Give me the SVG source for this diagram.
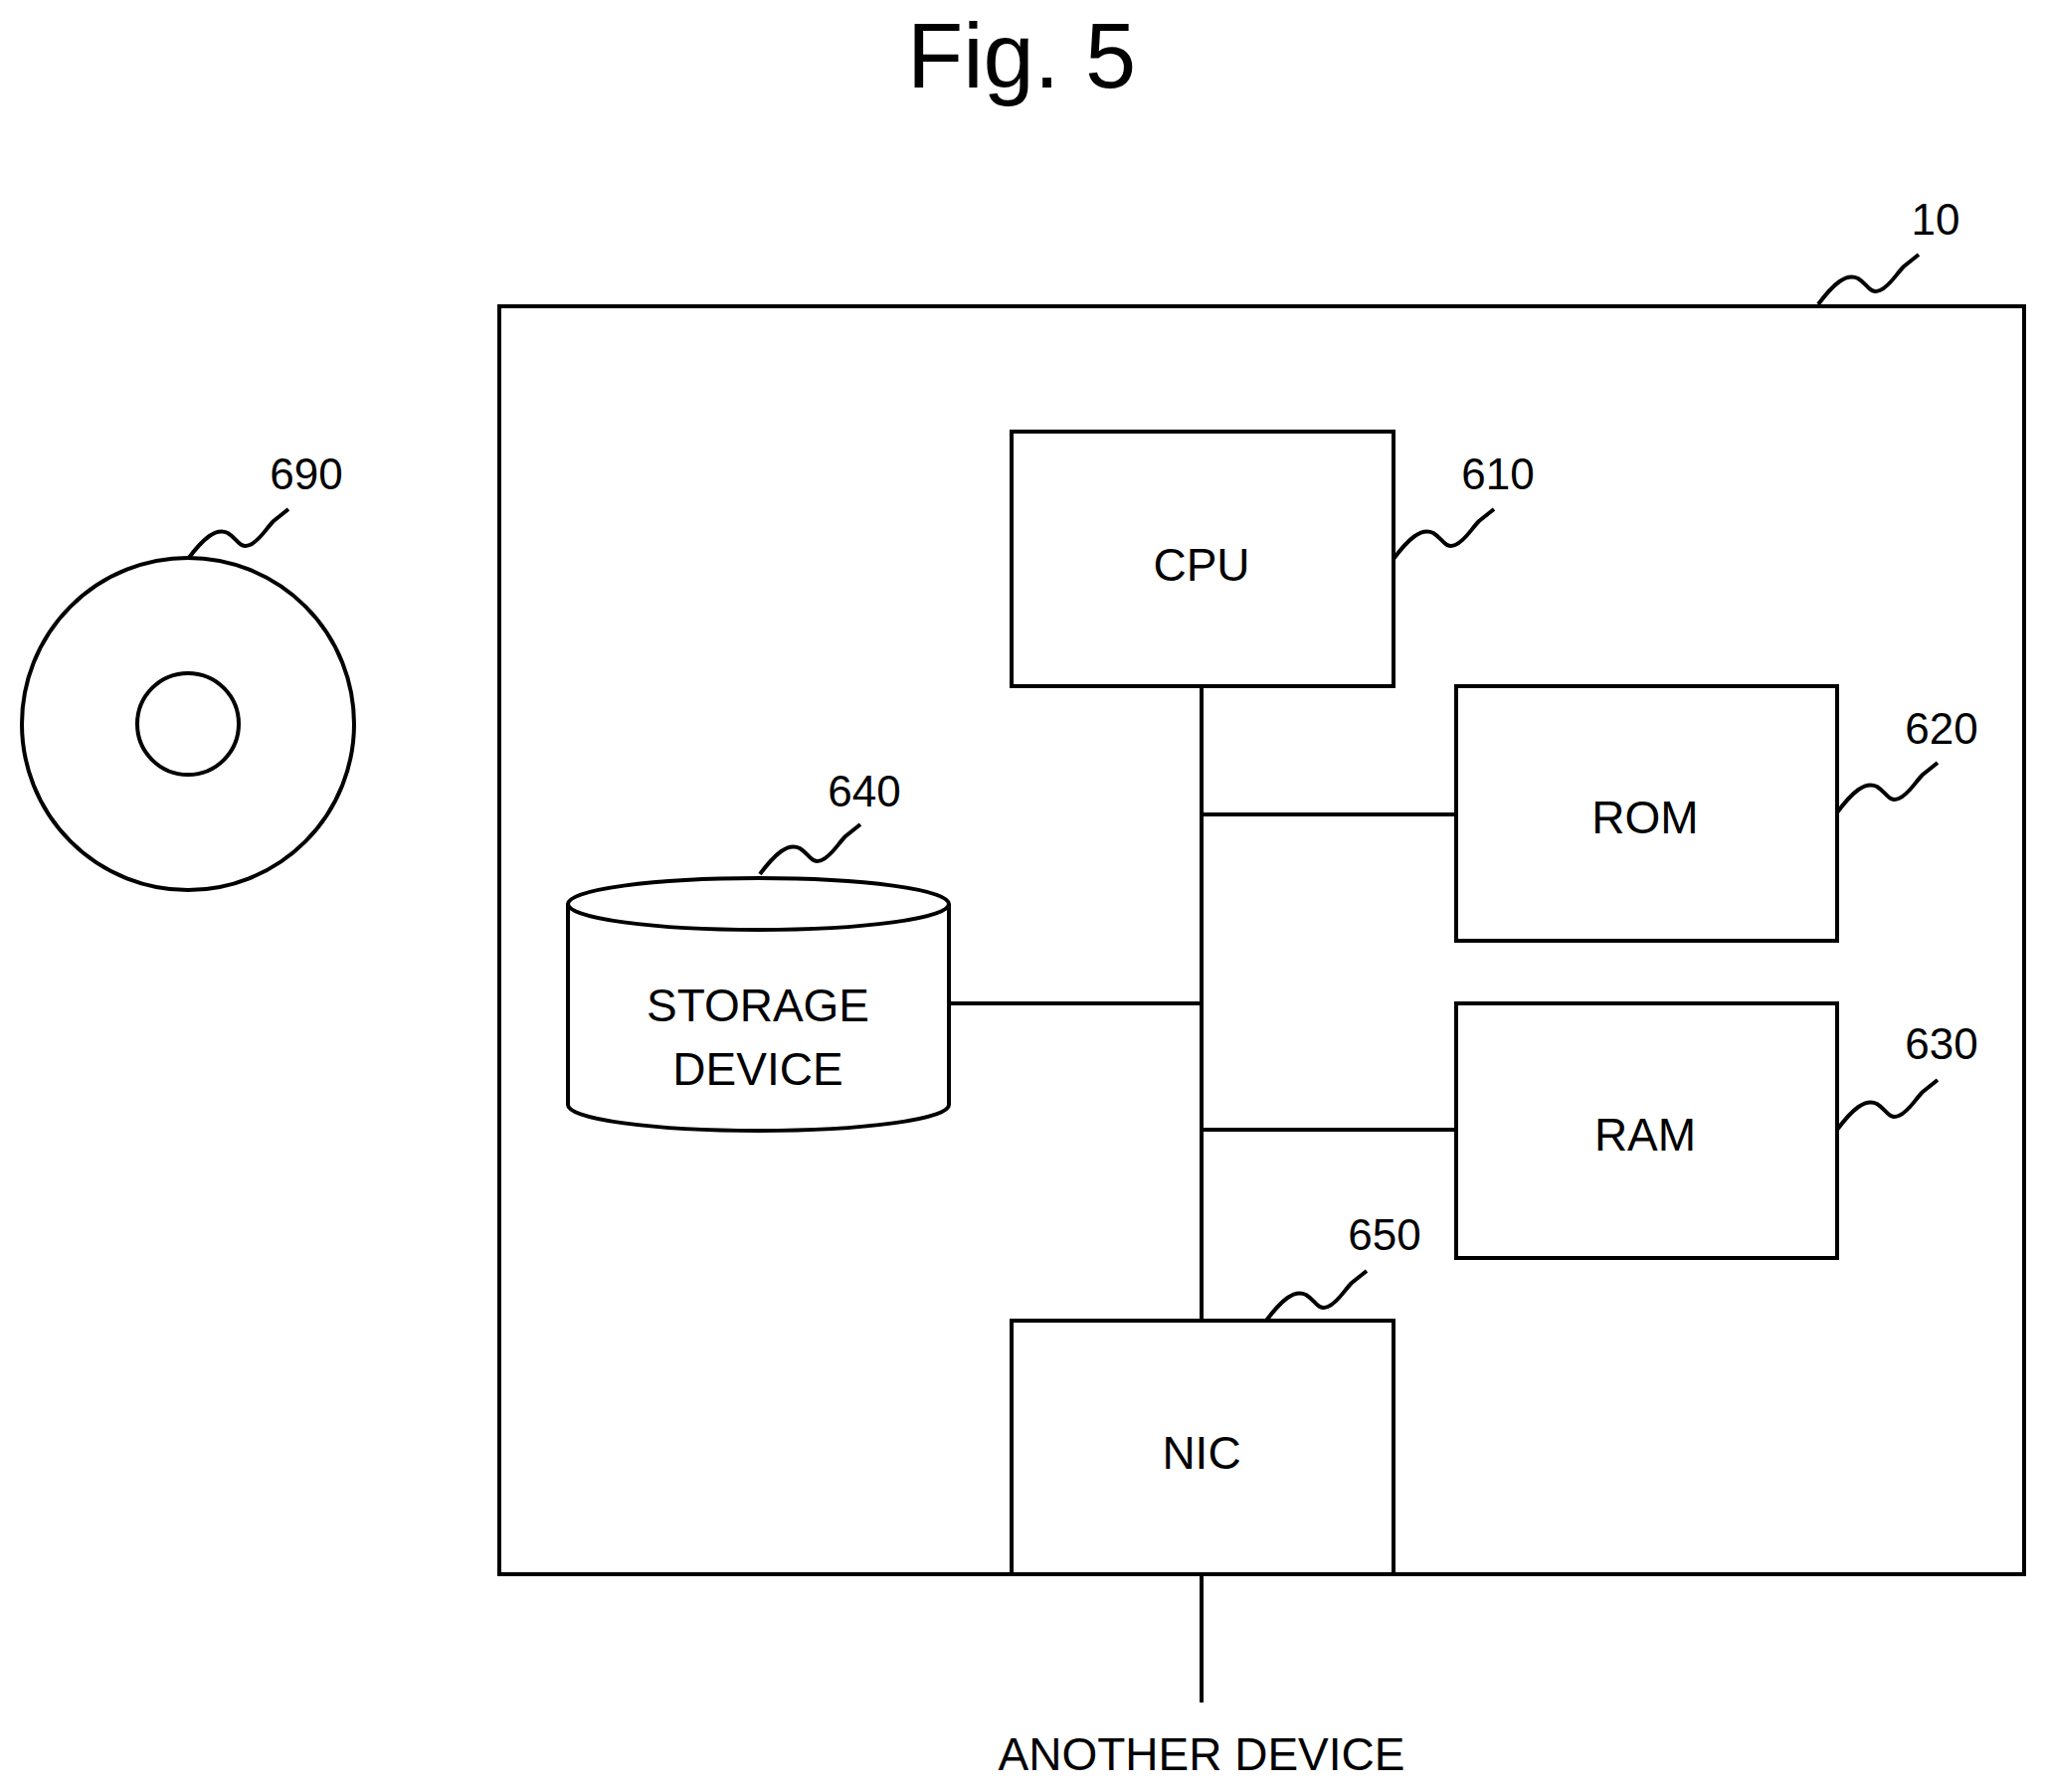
<svg xmlns="http://www.w3.org/2000/svg" xmlns:xlink="http://www.w3.org/1999/xlink" width="2057" height="1802" viewBox="0 0 2057 1802">
<style>
.s{fill:none;stroke:#000;stroke-width:4}
.w{fill:#fff;stroke:#000;stroke-width:4}
.t{font-family:"Liberation Sans",Arial,sans-serif;font-size:46px;text-anchor:middle}
.n{font-family:"Liberation Sans",Arial,sans-serif;font-size:44px;text-anchor:middle}
</style>
<defs>
<path id="q" class="s" d="M0,0 C15,-20 28,-32 40,-26 C50,-20 52,-10 62,-14 C72,-18 78,-30 86,-38 L101,-50"/>
</defs>
<rect width="2057" height="1802" fill="#fff"/>
<text x="1027" y="88" font-family="Liberation Sans,Arial,sans-serif" font-size="92" text-anchor="middle">Fig. 5</text>
<g id="n10"><rect class="s" x="502" y="308" width="1533" height="1275"/><use xlink:href="#q" x="1828" y="306"/><text class="n" x="1946" y="236">10</text></g>
<g id="connectors">
<path class="s" d="M1208,690V1328M1208,819H1464M1208,1136H1464M954,1009H1208M1208,1583V1712"/>
</g>
<g id="n690"><circle class="s" cx="189" cy="728" r="167"/><circle class="s" cx="189" cy="728" r="51"/><use xlink:href="#q" x="189" y="562"/><text class="n" x="308" y="492">690</text></g>
<g id="n610"><rect class="w" x="1017" y="434" width="384" height="256"/><text class="t" x="1208" y="584">CPU</text><use xlink:href="#q" x="1401" y="562"/><text class="n" x="1506" y="492">610</text></g>
<g id="n620"><rect class="w" x="1464" y="690" width="383" height="256"/><text class="t" x="1654" y="838">ROM</text><use xlink:href="#q" x="1847" y="817"/><text class="n" x="1952" y="748">620</text></g>
<g id="n630"><rect class="w" x="1464" y="1009" width="383" height="256"/><text class="t" x="1654" y="1157">RAM</text><use xlink:href="#q" x="1847" y="1136"/><text class="n" x="1952" y="1065">630</text></g>
<g id="n640"><path class="w" d="M571,909V1111A191.5,26 0 0 0 954,1111V909"/><ellipse class="w" cx="762.5" cy="909" rx="191.5" ry="26"/><text class="t" x="762" y="1027">STORAGE</text><text class="t" x="762" y="1091">DEVICE</text><use xlink:href="#q" x="764" y="879"/><text class="n" x="869" y="811">640</text></g>
<g id="n650"><rect class="w" x="1017" y="1328" width="384" height="255"/><text class="t" x="1208" y="1477">NIC</text><use xlink:href="#q" x="1273" y="1328"/><text class="n" x="1392" y="1257">650</text></g>
<text class="t" x="1208" y="1780">ANOTHER DEVICE</text>
</svg>
